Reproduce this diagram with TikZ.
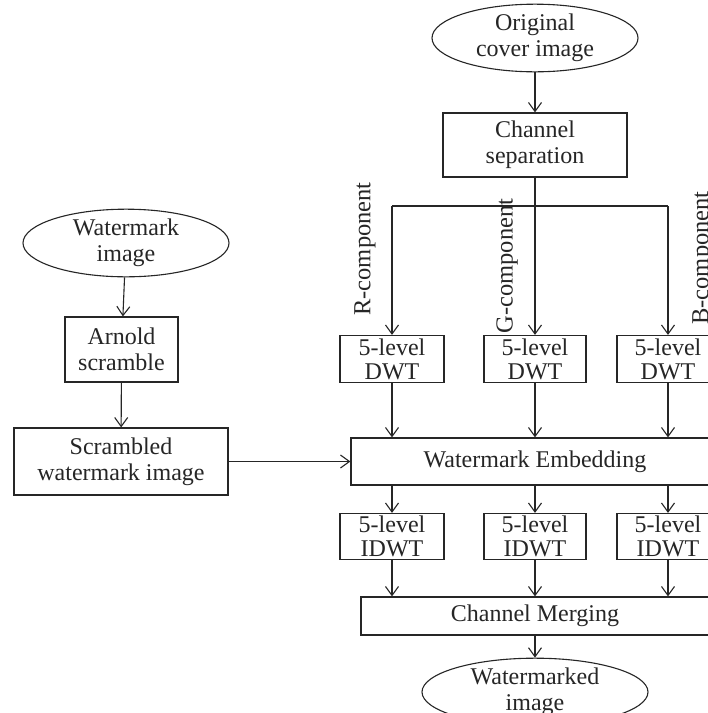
\documentclass[tikz,border=0pt]{standalone}
\usepackage{fontspec}
\setmainfont{Liberation Serif}
\usetikzlibrary{shapes.geometric,arrows.meta}
\definecolor{ink}{HTML}{262626}
\begin{document}
\begin{tikzpicture}[x=1pt,y=-1pt,
  every node/.style={font=\fontsize{24}{26}\selectfont, text=ink, align=center, inner sep=0pt},
  box/.style={draw=ink, line width=1.2pt, rectangle},
  small/.style={box, font=\fontsize{24}{24}\selectfont, minimum height=47pt},
  oval/.style={draw=ink, line width=1.1pt, ellipse},
  flow/.style={draw=ink, line width=1.1pt, -{Straight Barb[length=9pt,width=13pt,line width=1.1pt]}},
  wire/.style={draw=ink, line width=1.1pt},
  lbl/.style={rotate=90, font=\fontsize{24.5}{26}\selectfont}]
\clip (0,0) rectangle (708,713);
\fill[white] (0,0) rectangle (708,713);

% cover-image branch
\node[oval, minimum width=206pt, minimum height=56pt] (orig) at (535,38) {Original\\cover image};
\node[box, minimum width=184pt, minimum height=64pt] (sep) at (535,145) {Channel\\separation};

\coordinate (splitL) at (392,206);
\coordinate (splitR) at (668,206);

\node[small, minimum width=104pt] (dwtR) at (392,359) {5-level\\DWT};
\node[small, minimum width=102pt] (dwtG) at (535,359) {5-level\\DWT};
\node[small, minimum width=102pt] (dwtB) at (668,359) {5-level\\DWT};

\node[lbl] (labR) at (365,249) {R-component};
\node[lbl] (labG) at (507,266) {G-component};
\node[lbl] (labB) at (703,258) {B-component};

\node[box, minimum width=368pt, minimum height=47pt] (emb) at (535,461.5) {Watermark Embedding};

\node[small, minimum width=104pt, minimum height=46pt] (idwtR) at (392,536.5) {5-level\\IDWT};
\node[small, minimum width=102pt, minimum height=46pt] (idwtG) at (535,536.5) {5-level\\IDWT};
\node[small, minimum width=102pt, minimum height=46pt] (idwtB) at (668,536.5) {5-level\\IDWT};

\node[box, minimum width=348pt, minimum height=38pt] (merge) at (535,616) {Channel Merging};
\node[oval, minimum width=226pt, minimum height=60pt] (out) at (535,692) {Watermarked\\image};

% watermark branch
\node[oval, minimum width=206pt, minimum height=57pt] (wmk) at (126,243) {Watermark\\image};
\node[box, minimum width=113pt, minimum height=65pt] (arnold) at (121.5,349.5) {Arnold\\scramble};
\node[box, minimum width=214pt, minimum height=67pt] (scr) at (121,461.5) {Scrambled\\watermark image};

% connectors
\draw[flow] (orig) -- (sep);
\draw[flow] (sep) -- (dwtG);
\draw[wire] (splitL) -- (splitR);
\draw[flow] (splitL) -- (dwtR);
\draw[flow] (splitR) -- (dwtB);

\draw[flow] (dwtR) -- (dwtR |- emb.north);
\draw[flow] (dwtG) -- (dwtG |- emb.north);
\draw[flow] (dwtB) -- (dwtB |- emb.north);

\draw[flow] (dwtR |- emb.south) -- (idwtR);
\draw[flow] (dwtG |- emb.south) -- (idwtG);
\draw[flow] (dwtB |- emb.south) -- (idwtB);

\draw[flow] (idwtR) -- (idwtR |- merge.north);
\draw[flow] (idwtG) -- (idwtG |- merge.north);
\draw[flow] (idwtB) -- (idwtB |- merge.north);

\draw[flow] (merge) -- (out);

\draw[flow] (wmk) -- (arnold);
\draw[flow] (arnold) -- (scr);
\draw[flow] (scr) -- (emb);
\end{tikzpicture}
\end{document}
